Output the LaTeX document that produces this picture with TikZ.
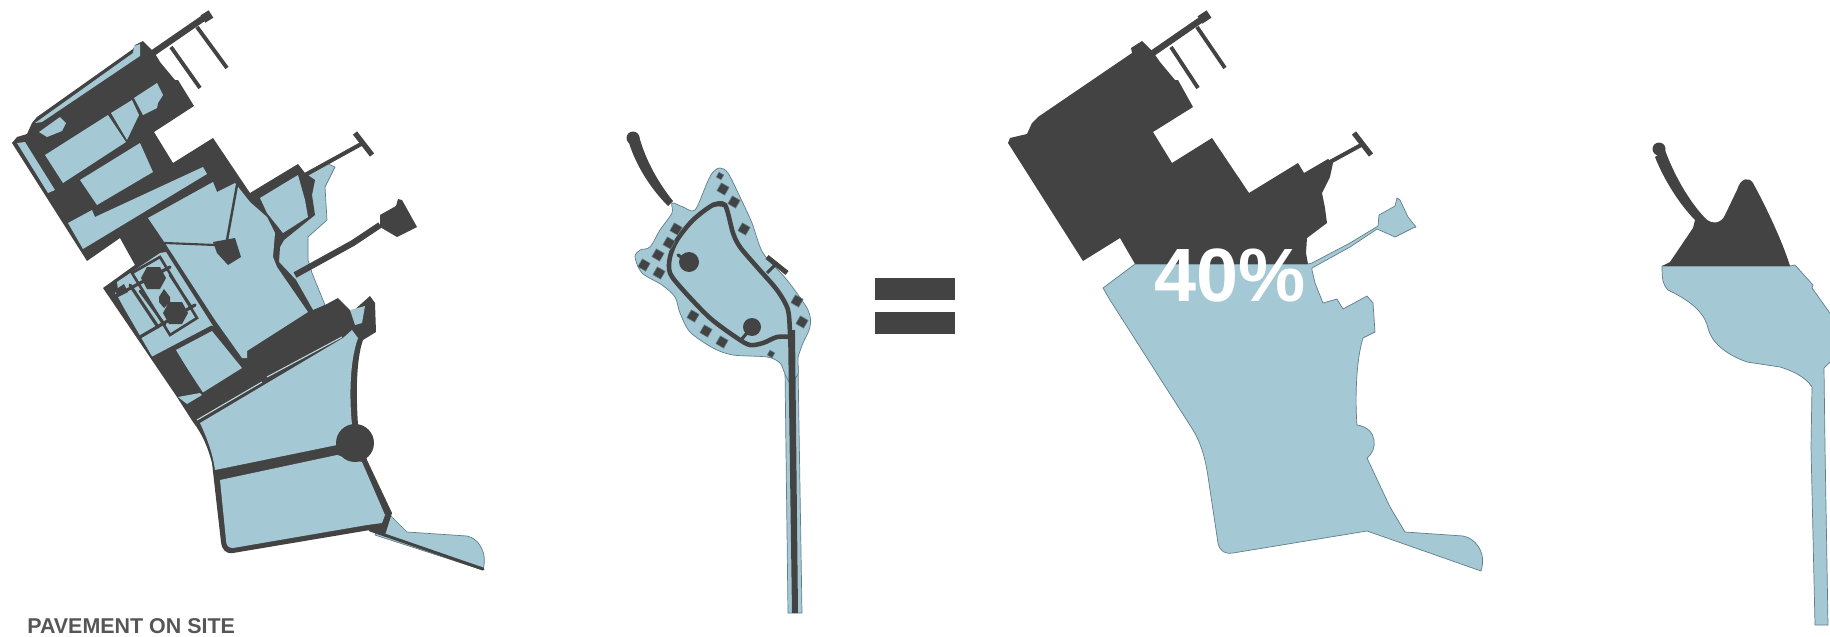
\documentclass[tikz,border=0pt]{standalone}
\usepackage{xcolor}
\usepackage{fontspec}
\setmainfont{Liberation Sans}
\usetikzlibrary{positioning}
\definecolor{siteblue}{HTML}{A5C8D5}
\definecolor{paveddark}{HTML}{434343}
\definecolor{shoreline}{HTML}{5F7F8B}
\begin{document}
\begin{tikzpicture}[
      x=0.02cm, y=-0.02cm,
      site/.style={fill=siteblue, draw=shoreline, line width=0.4pt, line join=round},
      cell/.style={fill=siteblue, line join=round},
      paved/.style={fill=paveddark, line join=round},
      road/.style={draw=paveddark, line width=2.6pt, line cap=round, line join=round},
      thinroad/.style={draw=paveddark, line width=1.5pt, line cap=round},
      lot/.style={fill=paveddark, draw=shoreline, line width=0.3pt, rotate=-30,
                  minimum size=0.18cm, inner sep=0pt},
      smalllot/.style={lot, minimum size=0.11cm},
      bigtext/.style={text=white, font=\fontsize{43}{46}\bfseries\selectfont},
      caption/.style={text=paveddark!90, anchor=west, inner sep=0pt,
                      font=\fontsize{12.2}{14}\bfseries\selectfont}
  ]
      \useasboundingbox (0,0) rectangle (1830,636);

      % Plano 1: faixas azuis ao longo da costa
      \fill[site] (305,176) -- (326,163) -- (335,167) -- (325,187) -- (327,220) -- (308,237)
          -- (308,260) -- (312,273) -- (325,305) -- (300,320) -- (270,240) -- cycle;
      \fill[site] (385,510) -- (407,532) -- (467,536) .. controls (478,538) and (488,552) .. (483,570)
          -- (375,535) -- cycle;

      % Plano 1: massa pavimentada
      \fill[paved] (12,143) -- (17,137) -- (27,134) -- (32,123) -- (37,117) -- (133,49) -- (135,45)
          -- (143,41) -- (154,52) -- (160,62) -- (175,80) -- (178,80) -- (194,106) -- (154,132)
          -- (173,163) -- (213,138) -- (250,193) -- (298,164) -- (305,173) -- (315,180) -- (312,195)
          -- (315,215) -- (284,240) -- (280,247) -- (279,262) -- (296,280) -- (313,310) -- (325,305)
          -- (338,298) -- (352,312) -- (370,296) -- (375,303) -- (376,332) -- (363,340)
          .. controls (356,360) and (356,395) .. (358,425) -- (367,460) -- (392,513) -- (385,535)
          -- (370,530) -- (233,553) .. controls (226,554) and (222,550) .. (221,542) -- (212,463)
          .. controls (208,448) and (203,435) .. (193,422) -- (177,397) -- (103,288) -- (135,265)
          -- (120,238) -- (87,261) -- cycle;
      \draw[paveddark, line width=1.7pt, line cap=round] (370,530) -- (483,569);

      % Plano 1: piers
      \draw[paveddark, line width=3.6pt] (150,55) -- (208,15);
      \draw[paveddark, line width=5pt] (203,19) -- (211,14);
      \draw[paveddark, line width=2.2pt] (197,27) -- (227,68);
      \draw[paveddark, line width=2.2pt] (171,47) -- (200,88);
      \draw[paveddark, line width=2.3pt] (305,175) -- (363,143);
      \draw[paveddark, line width=3pt] (355,133) -- (372,155);
      \draw[paveddark, line width=3.5pt] (295,275) -- (353,243) -- (380,225);
      \fill[paved] (380,227) -- (380,215) -- (396,206) -- (398,199) -- (402,200) -- (417,227) -- (397,237) -- cycle;

      % Plano 1: lotes azuis
      \fill[cell] (35,123) -- (133,53) -- (134,46) -- (140,44) -- (140,56) -- (42,122) -- cycle;
      \fill[cell] (17,143) -- (25,142) -- (55,190) -- (48,193) -- cycle;
      \fill[cell] (39,132) -- (60,117) -- (66,123) -- (62,131) -- (47,137) -- cycle;
      \fill[cell] (45,155) -- (108,115) -- (126,142) -- (63,183) -- cycle;
      \fill[cell] (111,113) -- (132,100) -- (139,115) -- (127,140) -- cycle;
      \fill[cell] (134,98) -- (157,83) -- (163,95) -- (158,103) -- (157,108) -- (143,115) -- cycle;
      \fill[cell] (80,180) -- (140,143) -- (153,172) -- (97,205) -- cycle;
      \fill[cell] (68,223) -- (92,210) -- (95,217) -- (203,167) -- (207,174) -- (83,249) -- cycle;
      \fill[cell] (148,218) -- (213,182) -- (217,192) -- (235,183) -- (250,202) -- (267,217)
          -- (275,233) -- (273,257) -- (277,267) -- (308,312) -- (247,351) -- (247,358) -- (242,358)
          -- (215,320) -- (165,243) -- cycle;
      \fill[cell] (260,198) -- (298,175) -- (305,200) -- (308,217) -- (283,233) -- (275,223) -- (267,213) -- cycle;
      \fill[cell] (176,350) -- (212,331) -- (242,368) -- (202,393) -- cycle;
      \fill[cell] (178,397) -- (200,393) -- (202,395) -- (187,404) -- cycle;
      \fill[cell] (200,423) -- (343,338) -- (352,330) -- (358,338) .. controls (350,360) and (349,395) .. (352,425)
          -- (337,445) -- (215,470) .. controls (213,455) and (208,440) .. (200,423) -- cycle;
      \fill[cell] (220,480) -- (337,455) -- (362,462) -- (385,515) -- (382,523) -- (367,525) -- (233,548)
          .. controls (228,548) and (226,545) .. (226,540) -- cycle;
      \fill[cell] (350,310) -- (365,306) -- (362,323) -- (355,325) -- cycle;
      \node[circle, fill=paveddark, minimum size=0.76cm, inner sep=0pt] (roundabout) at (355,443) {};

      % Plano 1: jardim
      \fill[cell] (117,282) -- (160,253) -- (166,252) -- (213,326) -- (153,358) -- (124,308) -- (118,297) -- (115,293) -- (118,290) -- cycle;
      \fill[paved] (115,290) -- (124,284) -- (128,292) -- (118,297) -- cycle;
      \draw[thinroad] (132,273) -- (160,257) -- (197,318) -- (170,335) -- cycle;
      \draw[thinroad, line width=1.8pt] (112,298) -- (170,267);
      \draw[thinroad, line width=1.8pt] (140,337) -- (195,305);
      \draw[thinroad, line width=1.8pt] (130,285) -- (158,327);
      \draw[thinroad] (140,291) -- (165,325);
      \draw[thinroad] (170,275) -- (192,308);
      \draw[road, line width=1.8pt] (153,358) -- (212,327);
      \draw[road, line width=1.1pt] (175,352) -- (202,393);
      \fill[paved] (141,278) -- (147,267) -- (160,267) -- (166,278) -- (160,289) -- (147,289) -- cycle;
      \fill[paved] (159,297) -- (164,289) -- (170,297) -- (170,302) -- (164,308) -- (159,302) -- cycle;
      \fill[paved] (163,313) -- (169,302) -- (182,302) -- (188,313) -- (182,324) -- (169,324) -- cycle;

      % Plano 1: praca central
      \draw[road, line width=1.4pt] (237,185) -- (227,240);
      \draw[road, line width=1.2pt] (165,243) -- (215,245);
      \fill[paved] (213,242) -- (235,238) -- (241,257) -- (228,265) -- (217,253) -- cycle;
      \draw[cell, draw=siteblue!70!white, line width=0.6pt] (197,420) -- (262,382);
      \draw[cell, draw=siteblue!70!white, line width=0.6pt] (267,377) -- (342,337);

      % Plano 2
      \fill[site] (785,370) -- (798,365) -- (802,613) -- (788,613) -- cycle;
      \draw[site] plot[smooth cycle, tension=0.5] coordinates {
          (672,203) (683,207) (695,210) (707,183) (713,172) (720,168) (728,173) (740,197)
          (752,223) (763,253) (787,280) (808,310) (810,327) (803,343) (798,358) (798,374)
          (790,382) (785,374) (780,363) (767,357) (733,355) (713,348) (690,332) (680,313)
          (675,297) (662,285) (642,273) (635,257) (640,250) (650,247) (660,230) (672,213)};
      \fill[paved] (629,143) .. controls (636,165) and (650,188) .. (668,206) -- (673,201)
          .. controls (660,185) and (646,162) .. (639,136) -- cycle;
      \node[circle, fill=paveddark, minimum size=0.26cm, inner sep=0pt] (islandend) at (633,138) {};
      \draw[road] plot[smooth, tension=0.5] coordinates {
          (725,205) (713,205) (693,220) (677,240) (670,257) (670,273) (683,290) (710,318)
          (737,338) (750,345) (763,343) (777,337) (790,337)};
      \draw[road] plot[smooth, tension=0.5] coordinates {
          (713,205) (725,205) (733,233) (740,247) (757,267) (777,290) (788,310) (790,337)};
      \fill[paved] (788,330) -- (795,330) -- (798,613) -- (792,613) -- cycle;
      \draw[thinroad, line width=1.8pt] (678,255) -- (689,262);
      \draw[thinroad, line width=1.8pt] (741,340) -- (752,327);
      \node[circle, fill=paveddark, minimum size=0.4cm, inner sep=0pt] (islandcentera) at (689,262) {};
      \node[circle, fill=paveddark, minimum size=0.36cm, inner sep=0pt] (islandcenterb) at (752,327) {};
      \draw[paveddark, line width=2.8pt] (767,257) -- (787,273);
      \draw[paveddark, line width=1.8pt] (767,273) -- (775,265);
      \node[lot] (lota) at (723,189) {};
      \node[smalllot] (lotb) at (720,176) {};
      \node[lot] (lotc) at (734,202) {};
      \node[lot] (lotd) at (744,229) {};
      \node[lot] (lote) at (676,229) {};
      \node[lot] (lotf) at (669,243) {};
      \node[lot] (lotg) at (658,255) {};
      \node[lot] (loth) at (644,265) {};
      \node[lot] (loti) at (659,273) {};
      \node[lot] (lotj) at (693,316) {};
      \node[lot] (lotk) at (706,331) {};
      \node[lot] (lotl) at (722,342) {};
      \node[smalllot] (lotm) at (771,354) {};
      \node[lot] (lotn) at (797,301) {};
      \node[lot] (loto) at (802,322) {};

      % Sinal de igual
      \fill[paved] (875,278) rectangle (955,300);
      \fill[paved] (875,312) rectangle (955,334);

      % Plano 3
      \draw[site] (1135,264) -- (1308,264) -- (1312,263) -- (1350,243) -- (1378,226) -- (1379,215) -- (1395,206) -- (1397,198)
          -- (1400,200) -- (1408,217) -- (1416,227) -- (1413,228) -- (1395,237) -- (1377,229) -- (1350,247)
          -- (1312,268) -- (1312,270) -- (1315,283) -- (1323,303) -- (1337,299) -- (1343,309) -- (1367,296)
          -- (1373,303) -- (1375,332) -- (1363,338) .. controls (1356,360) and (1355,400) .. (1357,425)
          .. controls (1378,428) and (1378,450) .. (1367,458) -- (1390,507) -- (1405,532) -- (1463,536)
          .. controls (1475,538) and (1487,552) .. (1481,571) -- (1367,531) -- (1233,553)
          .. controls (1225,554) and (1220,552) .. (1218,543) -- (1210,490)
          .. controls (1207,470) and (1205,450) .. (1193,430) -- (1110,300) -- (1103,288) -- cycle;
      \fill[paved] (1008,143) -- (1010,138) -- (1027,134) -- (1032,123) -- (1038,117) -- (1132,53) -- (1131,48)
          -- (1142,41) -- (1153,52) -- (1160,62) -- (1175,80) -- (1178,80) -- (1193,107) -- (1153,132)
          -- (1172,163) -- (1212,138) -- (1249,193) -- (1298,163) -- (1304,173) -- (1328,159) -- (1333,163)
          -- (1330,177) -- (1322,193) -- (1325,208) -- (1327,223) -- (1307,238) -- (1306,253) -- (1308,264)
          -- (1135,264) -- (1120,238) -- (1083,261) -- cycle;
      \draw[paveddark, line width=3.6pt] (1150,55) -- (1205,17);
      \draw[paveddark, line width=5pt] (1200,20) -- (1209,14);
      \draw[paveddark, line width=2.2pt] (1197,27) -- (1225,68);
      \draw[paveddark, line width=2.2pt] (1171,47) -- (1198,88);
      \draw[paveddark, line width=2.3pt] (1330,162) -- (1363,144);
      \draw[paveddark, line width=3pt] (1354,133) -- (1371,155);
      \node[bigtext] (forty) at (1230,275) {40\%};

      % Plano 4
      \draw[site] (1662,266) -- (1790,266) -- (1795,265) -- (1813,285) -- (1812,288) -- (1832,316)
          -- (1832,360) -- (1824,368) -- (1825,447) -- (1828,625) -- (1815,625) -- (1811,447) -- (1812,387)
          .. controls (1805,376) and (1790,370) .. (1780,367) -- (1747,362)
          .. controls (1730,356) and (1712,345) .. (1708,328) .. controls (1705,315) and (1695,303) .. (1668,290)
          .. controls (1663,285) and (1662,280) .. (1662,266) -- cycle;
      \fill[paved] (1655,157) .. controls (1664,180) and (1680,205) .. (1695,220) -- (1693,228) -- (1670,262) -- (1662,266)
          -- (1790,266) .. controls (1782,240) and (1765,205) .. (1753,183) .. controls (1749,177) and (1741,177) .. (1737,190)
          -- (1725,215) .. controls (1721,224) and (1712,224) .. (1707,220) .. controls (1692,205) and (1676,180) .. (1665,150) -- cycle;
      \node[circle, fill=paveddark, minimum size=0.26cm, inner sep=0pt] (islandendb) at (1659,149) {};

      % Legenda
      \node[caption] (pavementlabel) at (27,626) {PAVEMENT ON SITE};
  \end{tikzpicture}
\end{document}
